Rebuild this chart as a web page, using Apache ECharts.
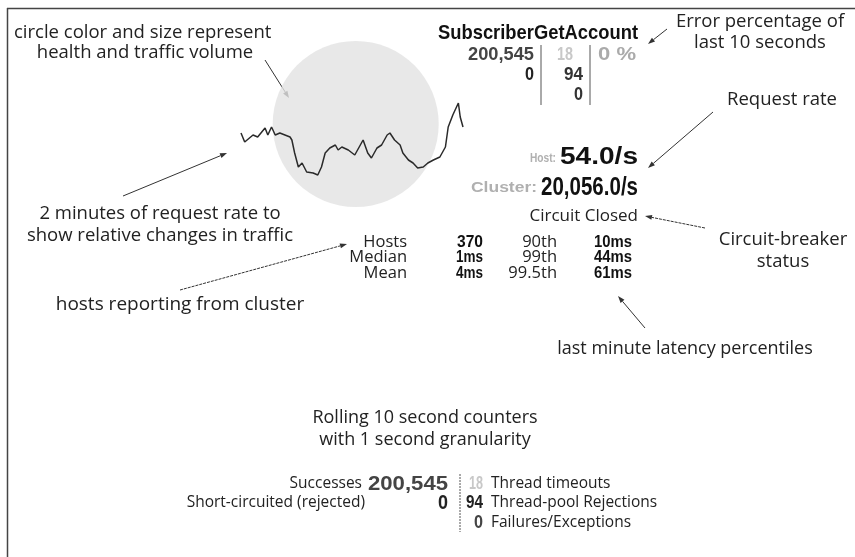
<!DOCTYPE html>
<html>
<head>
<meta charset="utf-8">
<script src="https://cdn.jsdelivr.net/npm/echarts@6/dist/echarts.min.js"></script>
<style>
html, body { margin: 0; padding: 0; background: #fff; }
#main { width: 855px; height: 557px; }
</style>
</head>
<body>
<div id="main"></div>
<script>
// 2 minutes of request rate (seconds, req/s)
var sparkTimes = [0, 2, 6.5, 9, 13, 14.5, 16.5, 18.5, 21, 26.5, 27.5, 29, 31, 33, 35.5, 39, 41.5, 43.5, 45.5, 48,
	51, 52.5, 54.5, 58, 61.5, 66, 68.5, 70.5, 73.5, 76, 79, 80.5, 83, 86, 87.5, 90.5, 93, 95.5, 98.5, 101,
	104, 107.5, 110.5, 112, 114.5, 117.5, 118.5, 120];
var sparkRates = [52, 43, 50, 48, 57, 50, 58, 50, 52, 48, 45, 32, 18, 22, 13, 12, 10, 18, 32, 37,
	40, 35, 38, 35, 30, 45, 32, 27, 37, 40, 50, 52, 45, 40, 32, 25, 22, 17, 18, 22,
	25, 28, 38, 58, 70, 82, 68, 58];
var volumeBubble = [[62, 61]];

var commandName = 'SubscriberGetAccount';
var successCount = '200,545';
var shortCircuited = '0';
var timeoutCount = '18';
var rejectedCount = '94';
var failureCount = '0';
var errorPct = '0 %';
var hostRate = '54.0/s';
var clusterRate = '20,056.0/s';
var circuitStatus = 'Circuit Closed';

var latencyLabels = ['Hosts', 'Median', 'Mean'];
var latencyValues = ['370', '1ms', '4ms'];
var percentileLabels = ['90th', '99th', '99.5th'];
var percentileValues = ['10ms', '44ms', '61ms'];

var LIGHT = '"Open Sans", "Liberation Sans", sans-serif';
var BOLD = '"Liberation Sans", Arial, sans-serif';
var NOTE = 18.5;

var measureCtx = document.createElement('canvas').getContext('2d');

function txt(x, y, text, size, align, opts) {
	opts = opts || {};
	return {
		type: 'text', x: x, y: y, z: 10,
		style: {
			text: text,
			fontSize: size,
			fontFamily: opts.family || LIGHT,
			fontWeight: opts.weight || 'normal',
			fill: opts.color || '#222',
			align: align || 'left',
			verticalAlign: 'middle'
		}
	};
}

// condensed bold numbers: squeeze to the width seen in the picture
function num(x, y, text, size, width, align, color) {
	measureCtx.font = 'bold ' + size + 'px ' + BOLD;
	var w = measureCtx.measureText(text).width;
	var el = txt(x, y, text, size, align, { family: BOLD, weight: 'bold', color: color || '#111' });
	el.scaleX = width / w;
	return el;
}

function arrow(x1, y1, x2, y2, dashed) {
	var a = Math.atan2(y2 - y1, x2 - x1);
	var len = 7, w = 2.5;
	var bx = x2 - len * Math.cos(a), by = y2 - len * Math.sin(a);
	var px = -Math.sin(a) * w, py = Math.cos(a) * w;
	return {
		type: 'group', z: 10,
		children: [
			{ type: 'line', shape: { x1: x1, y1: y1, x2: bx, y2: by },
				style: { stroke: '#333', lineWidth: 1, lineDash: dashed ? [3, 1] : null } },
			{ type: 'polygon', shape: { points: [[x2, y2], [bx + px, by + py], [bx - px, by - py]] },
				style: { fill: '#333' } }
		]
	};
}

function vline(x, y1, y2, dashed) {
	return { type: 'line', z: 10, shape: { x1: x, y1: y1, x2: x, y2: y2 },
		style: { stroke: '#555', lineWidth: 1, lineDash: dashed ? [2, 1] : null } };
}

var g = [];
// frame
g.push({ type: 'line', shape: { x1: 7, y1: 8.5, x2: 855, y2: 8.5 }, style: { stroke: '#444', lineWidth: 1.5 } });
g.push({ type: 'line', shape: { x1: 7.5, y1: 8, x2: 7.5, y2: 557 }, style: { stroke: '#444', lineWidth: 1.5 } });

// annotations
g.push(txt(14, 33, 'circle color and size represent', NOTE));
g.push(txt(145, 53, 'health and traffic volume', NOTE, 'center'));
g.push(arrow(265, 60, 289, 98));

g.push(txt(760, 22, 'Error percentage of', NOTE, 'center'));
g.push(txt(760, 43, 'last 10 seconds', NOTE, 'center'));
g.push(arrow(667, 29, 648, 44));

g.push(txt(782, 100, 'Request rate', NOTE, 'center'));
g.push(arrow(713, 112, 648, 168));

g.push(txt(160, 214, '2 minutes of request rate to', NOTE, 'center'));
g.push(txt(160, 236, 'show relative changes in traffic', NOTE, 'center'));
g.push(arrow(123, 196, 227, 153));

g.push(txt(783, 240, 'Circuit-breaker', NOTE, 'center'));
g.push(txt(783, 262, 'status', NOTE, 'center'));
g.push(arrow(705, 228, 645, 216, true));

g.push(txt(180, 305, 'hosts reporting from cluster', 19, 'center'));
g.push(arrow(180, 290, 347, 244, true));

g.push(txt(685, 349, 'last minute latency percentiles', 18, 'center'));
g.push(arrow(645, 328, 618, 296));

// command box
g.push(num(638, 33, commandName, 21, 200, 'right', '#111'));
g.push(num(534, 55, successCount, 19, 66, 'right', '#444'));
g.push(num(534, 75, shortCircuited, 19, 9, 'right', '#222'));
g.push(vline(541, 45, 105));
g.push(num(573, 55, timeoutCount, 19, 16, 'right', '#c8c8c8'));
g.push(num(583, 75, rejectedCount, 19, 19, 'right', '#333'));
g.push(num(583, 95, failureCount, 19, 9, 'right', '#333'));
g.push(vline(590, 45, 105));
g.push(num(598, 55, errorPct, 19, 38, 'left', '#aaa'));

g.push(num(556, 158, 'Host:', 13, 26, 'right', '#b0b0b0'));
g.push(num(638, 158, hostRate, 23, 78, 'right', '#111'));
g.push(num(537, 188, 'Cluster:', 14, 66, 'right', '#b0b0b0'));
g.push(num(638, 188, clusterRate, 26, 97, 'right', '#111'));
g.push(txt(638, 216, circuitStatus, 17, 'right'));

var valueWidths = [26, 27, 27];
var pctWidths = [38, 38, 38];
for (var i = 0; i < latencyLabels.length; i++) {
	var ry = 242 + i * 15.5;
	g.push(txt(407, ry, latencyLabels[i], 16.5, 'right'));
	g.push(num(483, ry, latencyValues[i], 17, valueWidths[i], 'right', '#111'));
	g.push(txt(557, ry, percentileLabels[i], 16.5, 'right'));
	g.push(num(632, ry, percentileValues[i], 17, pctWidths[i], 'right', '#111'));
}

// rolling counters
g.push(txt(425, 418, 'Rolling 10 second counters', 18, 'center'));
g.push(txt(425, 440, 'with 1 second granularity', 18, 'center'));
g.push(txt(362, 484, 'Successes', 15.5, 'right'));
g.push(num(448, 484, successCount, 21, 80, 'right', '#444'));
g.push(txt(365, 503, 'Short-circuited (rejected)', 15.5, 'right'));
g.push(num(448, 503, shortCircuited, 21, 10, 'right', '#222'));
g.push(vline(460, 474, 532, true));
g.push(num(483, 484, timeoutCount, 18, 14, 'right', '#c8c8c8'));
g.push(txt(491, 484, 'Thread timeouts', 15.5, 'left'));
g.push(num(483, 503, rejectedCount, 18, 17, 'right', '#222'));
g.push(txt(491, 503, 'Thread-pool Rejections', 15.5, 'left'));
g.push(num(483, 523, failureCount, 18, 9, 'right', '#444'));
g.push(txt(491, 523, 'Failures/Exceptions', 15.5, 'left'));

var chart = echarts.init(document.getElementById('main'), null, { renderer: 'canvas' });
chart.setOption({
	backgroundColor: '#fff',
	animation: false,
	grid: { left: 241, top: 100, width: 222, height: 85 },
	xAxis: { type: 'value', min: 0, max: 120, show: false },
	yAxis: { type: 'value', min: 0, max: 85, show: false },
	series: [
		{
			type: 'scatter',
			data: volumeBubble,
			symbolSize: 166,
			itemStyle: { color: '#e2e2e2' },
			silent: true,
			z: 1
		},
		{
			type: 'line',
			data: sparkTimes.map(function (t, i) { return [t, sparkRates[i]]; }),
			symbol: 'none',
			lineStyle: { color: '#2a2a2a', width: 1.5 },
			z: 2
		}
	],
	graphic: g
});
</script>
</body>
</html>
